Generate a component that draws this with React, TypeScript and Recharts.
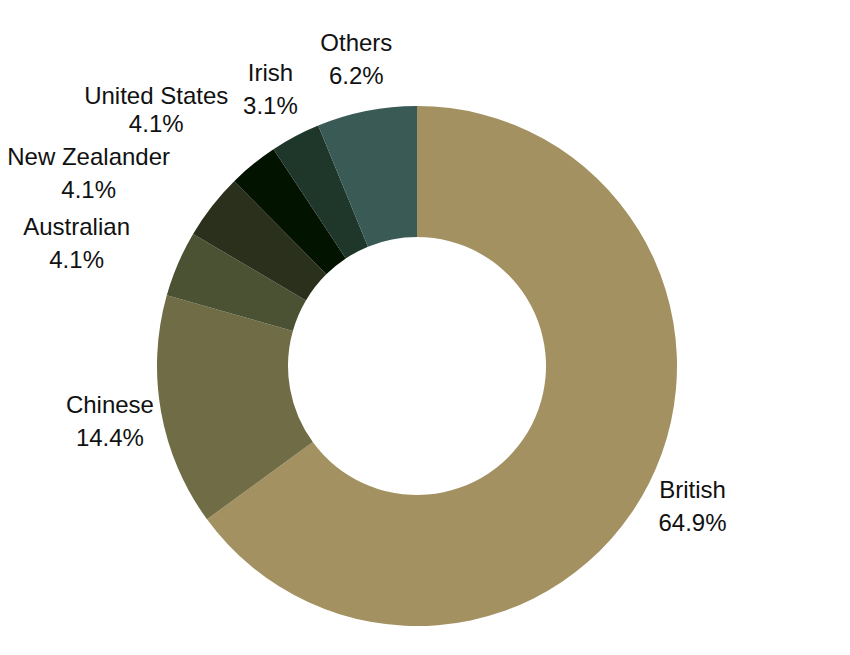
import React from "react";
import { PieChart, Pie, Cell } from "recharts";

const categories = ["British", "Chinese", "Australian", "New Zealander", "United States", "Irish", "Others"];
// slice sizes as drawn in the picture
const shares = [64.9, 14.4, 4.1, 4.1, 3.1, 3.1, 6.2];
// percentage texts as printed on the picture
const shareLabels = ["64.9%", "14.4%", "4.1%", "4.1%", "4.1%", "3.1%", "6.2%"];
const colors = ["#A39161", "#6F6C46", "#4A5233", "#2B301C", "#021300", "#1F362A", "#3A5A56"];

const data = categories.map((name, i) => ({ name, value: shares[i], text: shareLabels[i] }));

// label layout tweaks: extra radial distance beyond outer edge, angular nudge (deg), half line gap
const labelGap = [49, 52, 102, 121, 106, 53, 53];
const labelNudge = [0, 0, 3.25, 7.45, 6.34, 0, 0];
const halfGap = [16.5, 16.5, 16.5, 16.5, 14, 16.5, 16.5];
const RAD = Math.PI / 180;

const renderLabel = (props: any) => {
  const { cx, cy, midAngle, outerRadius, index, name } = props;
  const r = outerRadius + labelGap[index];
  const a = (midAngle + labelNudge[index]) * RAD;
  const x = cx + r * Math.cos(-a);
  const y = cy + r * Math.sin(-a);
  const h = halfGap[index];
  return (
    <text
      x={x}
      y={y}
      textAnchor="middle"
      fill="#111"
      fontSize={24}
      fontFamily="'Liberation Sans', Arial, sans-serif"
    >
      <tspan x={x} y={y - h} dominantBaseline="central">{name}</tspan>
      <tspan x={x} y={y + h} dominantBaseline="central">{data[index].text}</tspan>
    </text>
  );
};

export default function App() {
  return (
    <div style={{ width: 834, height: 640 }}>
      <PieChart width={834} height={640} margin={{ top: 0, right: 0, bottom: 0, left: 0 }}>
        <Pie
          data={data}
          dataKey="value"
          nameKey="name"
          cx={409}
          cy={358}
          innerRadius={129}
          outerRadius={260}
          startAngle={90}
          endAngle={-270}
          stroke="none"
          labelLine={false}
          label={renderLabel}
          isAnimationActive={false}
        >
          {data.map((d, i) => (
            <Cell key={d.name} fill={colors[i]} />
          ))}
        </Pie>
      </PieChart>
    </div>
  );
}
